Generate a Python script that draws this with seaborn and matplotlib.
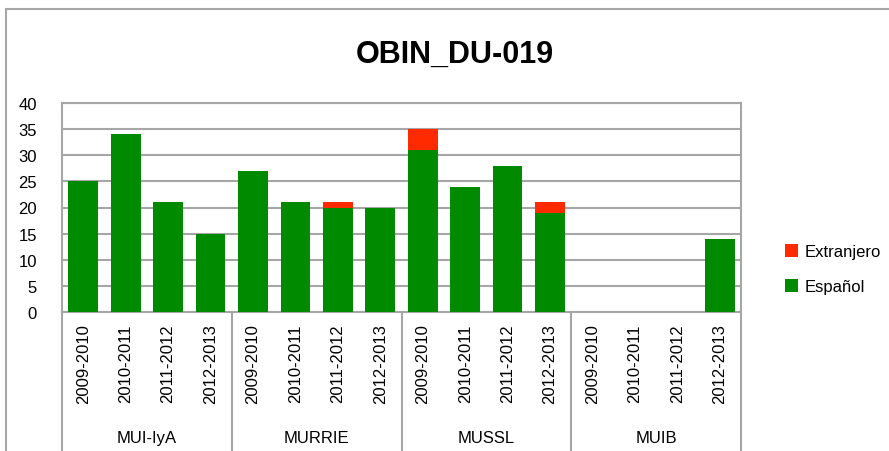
import matplotlib.pyplot as plt
import seaborn as sns
import pandas as pd
from matplotlib.patches import Rectangle, Patch
from matplotlib.lines import Line2D

groups = ["MUI-IyA", "MURRIE", "MUSSL", "MUIB"]
years = ["2009-2010", "2010-2011", "2011-2012", "2012-2013"]
espanol = [25, 34, 21, 15,
           27, 21, 20, 20,
           31, 24, 28, 19,
           0, 0, 0, 14]
extranjero = [0, 0, 0, 0,
              0, 0, 1, 0,
              4, 0, 0, 2,
              0, 0, 0, 0]

GREEN = "#008A00"
RED = "#FF2A00"
GRID = "#A6A6A6"

rows = []
for gi, g in enumerate(groups):
    for yi, y in enumerate(years):
        k = gi * len(years) + yi
        rows.append({"key": f"{g}|{y}", "year": y,
                     "Español": espanol[k],
                     "total": espanol[k] + extranjero[k]})
df = pd.DataFrame(rows)

sns.set_theme(style="white")
plt.rcParams["font.family"] = ["Liberation Sans Narrow", "Liberation Sans", "DejaVu Sans"]
plt.rcParams["text.color"] = "black"
plt.rcParams["xtick.color"] = "black"
plt.rcParams["ytick.color"] = "black"

fig = plt.figure(figsize=(8.89, 4.52), dpi=100)
ax = fig.add_axes([62 / 889, 1 - 313 / 452, (741 - 62) / 889, (313 - 104) / 452])

order = df["key"].tolist()
sns.barplot(data=df, x="key", y="total", order=order, color=RED,
            width=0.7, saturation=1, linewidth=0, ax=ax, zorder=3)
sns.barplot(data=df, x="key", y="Español", order=order, color=GREEN,
            width=0.7, saturation=1, linewidth=0, ax=ax, zorder=4)

ax.set_ylim(0, 40)
ax.set_xlim(-0.5, len(order) - 0.5)
ax.set_yticks(range(0, 41, 5))
ax.set_yticklabels([str(v) for v in range(0, 41, 5)], fontsize=12)
ax.yaxis.grid(True, color=GRID, linewidth=1.5, zorder=0)
ax.set_axisbelow(True)
for s in ax.spines.values():
    s.set_color(GRID)
    s.set_linewidth(1.5)
ax.tick_params(axis="y", length=0, pad=18)
ax.set_xlabel("")
ax.set_ylabel("")

ax.set_xticks(range(len(order)))
ax.set_xticklabels(df["year"], rotation=90, fontsize=12)
ax.tick_params(axis="x", length=0, pad=8)

# group separators and group names below the axis
n = len(years)
for gi in range(len(groups) + 1):
    ax.add_line(Line2D([gi * n - 0.5, gi * n - 0.5], [0, -27], color=GRID,
                       linewidth=1.5, clip_on=False,
                       transform=ax.transData))
for gi, g in enumerate(groups):
    ax.text(gi * n + (n - 1) / 2, -24, g, ha="center", va="center",
            fontsize=12, clip_on=False)

fig.text(455 / 889, 1 - 55 / 452, "OBIN_DU-019", ha="center", va="center",
         fontsize=22, fontweight="bold")

handles = [Patch(facecolor=RED, edgecolor="none", label="Extranjero"),
           Patch(facecolor=GREEN, edgecolor="none", label="Español")]
fig.legend(handles=handles, loc="center left", bbox_to_anchor=(770 / 889, 1 - 270 / 452),
           frameon=False, fontsize=12, handlelength=0.8, handleheight=0.8,
           labelspacing=1.2, handletextpad=0.4)

fig.patches.append(Rectangle((5.5 / 889, -0.1), 1.2, 1 - 9.5 / 452 + 0.1,
                             transform=fig.transFigure, fill=False,
                             edgecolor=GRID, linewidth=1.5))

fig.savefig("out.png", dpi=100)
